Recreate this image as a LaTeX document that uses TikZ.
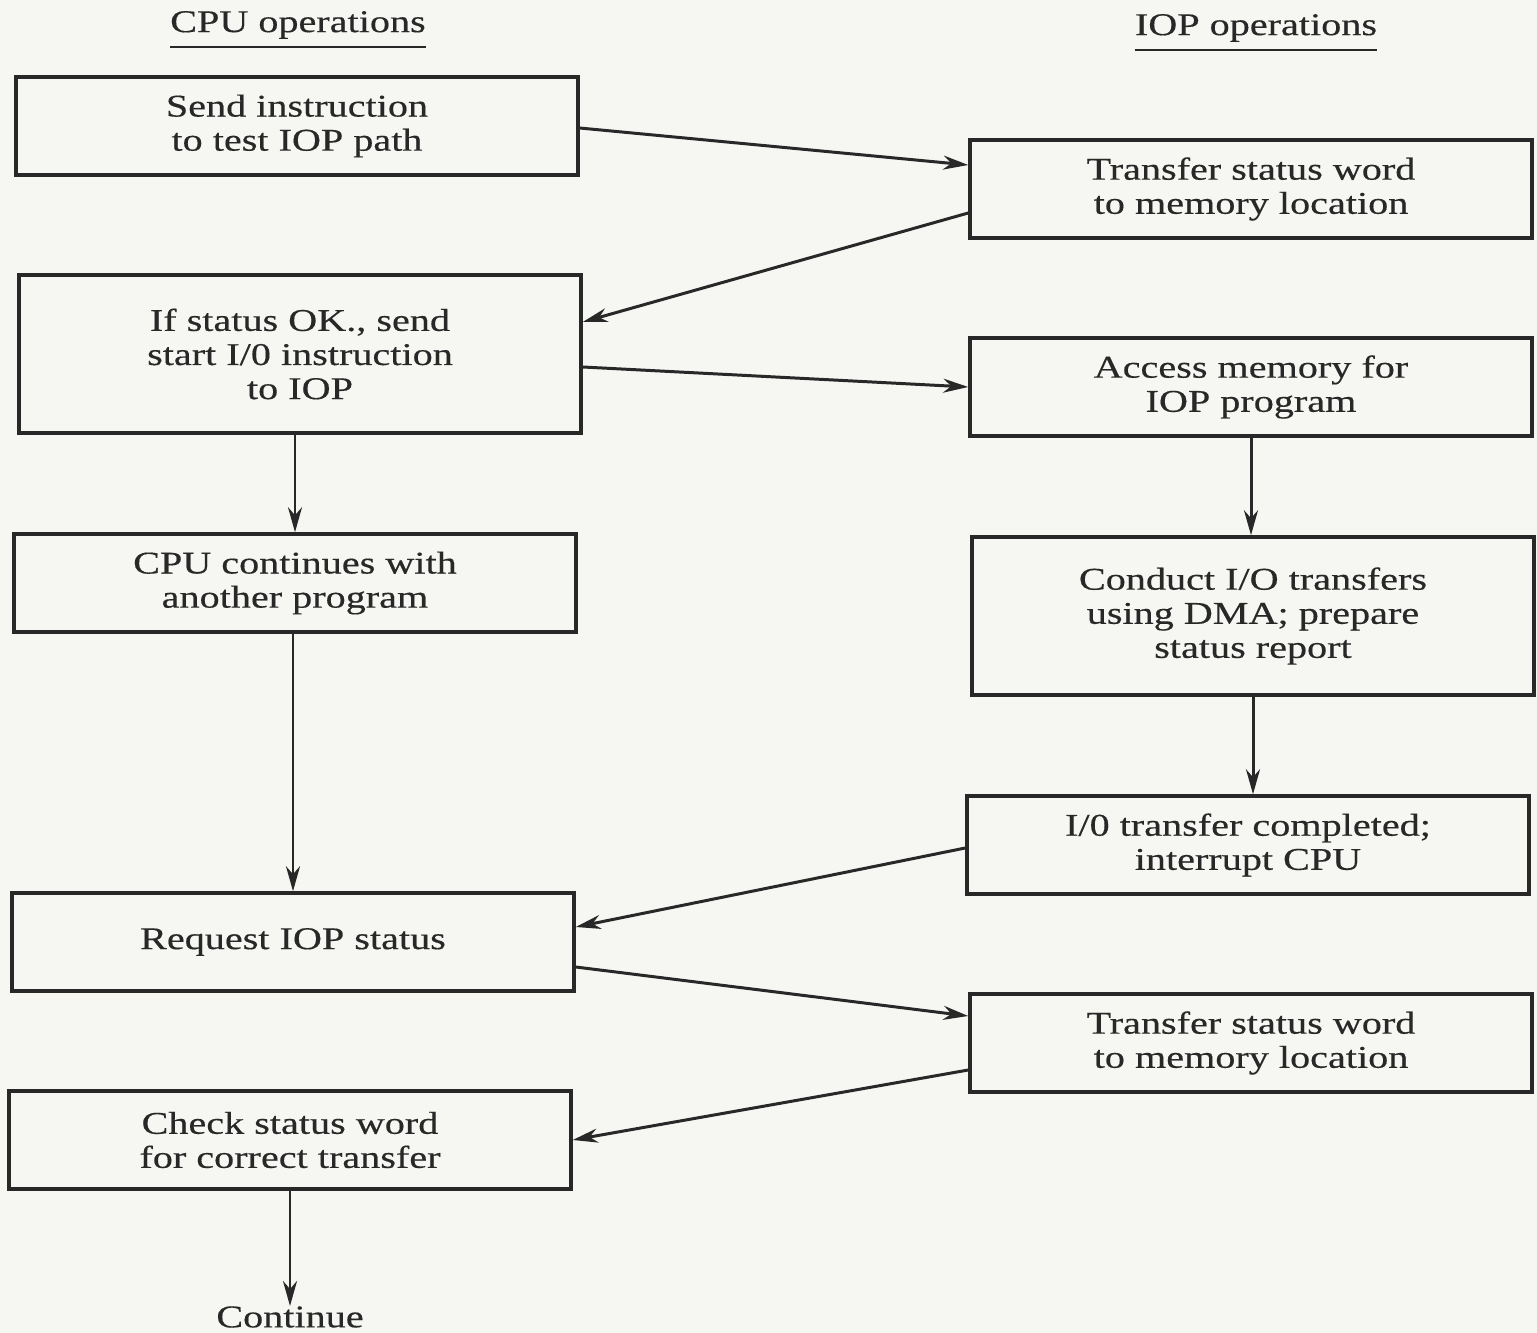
\documentclass[tikz,border=0pt]{standalone}
\usepackage{fontspec}
\setmainfont[FakeStretch=1.27, FakeBold=0.4]{Liberation Serif}
\usetikzlibrary{calc,arrows.meta}

\definecolor{paper}{HTML}{F6F6F3}
\definecolor{ink}{HTML}{282828}

\begin{document}
\begin{tikzpicture}[x=0.2mm, y=-0.2mm,
    opbox/.style={rectangle, draw=ink, line width=2pt, fill=paper,
                  minimum width=112.4mm, minimum height=19.6mm,
                  inner sep=2pt, align=center, text=ink,
                  font=\fontsize{18}{19.4}\selectfont},
    tallbox/.style={opbox, minimum height=31.6mm},
    hdrlbl/.style={inner sep=0pt, text=ink,
                   font=\fontsize{18}{19.4}\selectfont},
    conn/.style={-{Stealth[length=5mm, width=2.8mm, inset=1.6mm]},
                 line width=1.7pt, draw=ink},
    rule/.style={line width=1.3pt, draw=ink},
]

% --- Page ---
\fill[paper] (0,0) rectangle (1537,1333);
\useasboundingbox (0,0) rectangle (1537,1333);

% --- Column headings ---
\node[hdrlbl] (cpuhdr) at (298, 25) {CPU operations};
\node[hdrlbl] (iophdr) at (1256, 28) {IOP operations};
\draw[rule] ($(cpuhdr.south west)+(0,8)$) -- ($(cpuhdr.south east)+(0,8)$);
\draw[rule] ($(iophdr.south west)+(0,8)$) -- ($(iophdr.south east)+(0,8)$);

% --- CPU side ---
\node[opbox]   (sendtest) at (297, 126)  {Send instruction\\to test IOP path};
\node[tallbox] (okstart)  at (300, 354)  {If status OK., send\\start I/0 instruction\\to IOP};
\node[opbox]   (cpucont)  at (295, 583)  {CPU continues with\\another program};
\node[opbox]   (request)  at (293, 942)  {Request IOP status};
\node[opbox]   (check)    at (290, 1140) {Check status word\\for correct transfer};
\node[hdrlbl]  (contlbl)  at (290, 1317) {Continue};

% --- IOP side ---
\node[opbox]   (xferone) at (1251, 189)  {Transfer status word\\to memory location};
\node[opbox]   (access)  at (1251, 387)  {Access memory for\\IOP program};
\node[tallbox] (dma)     at (1253, 616)  {Conduct I/O transfers\\using DMA; prepare\\status report};
\node[opbox]   (done)    at (1248, 845)  {I/0 transfer completed;\\interrupt CPU};
\node[opbox]   (xfertwo) at (1251, 1043) {Transfer status word\\to memory location};

% --- Cross connections ---
\draw[conn] ($(sendtest.east)+(0,2)$) -- ($(xferone.west)+(0,-24)$);
\draw[conn] ($(xferone.west)+(0,24)$) -- ($(okstart.east)+(0,-32)$);
\draw[conn] ($(okstart.east)+(0,13)$) -- (access.west);
\draw[conn] ($(done.west)+(0,3)$) -- ($(request.east)+(0,-15)$);
\draw[conn] ($(request.east)+(0,25)$) -- ($(xfertwo.west)+(0,-27)$);
\draw[conn] ($(xfertwo.west)+(0,27)$) -- (check.east);

% --- Vertical flow ---
\draw[conn] (cpucont.north |- okstart.south) -- (cpucont.north);
\draw[conn] (request.north |- cpucont.south) -- (request.north);
\draw[conn] (check.south) -- (contlbl.north);
\draw[conn] (access.south) -- (access.south |- dma.north);
\draw[conn] (dma.south) -- (dma.south |- done.north);

\end{tikzpicture}
\end{document}
